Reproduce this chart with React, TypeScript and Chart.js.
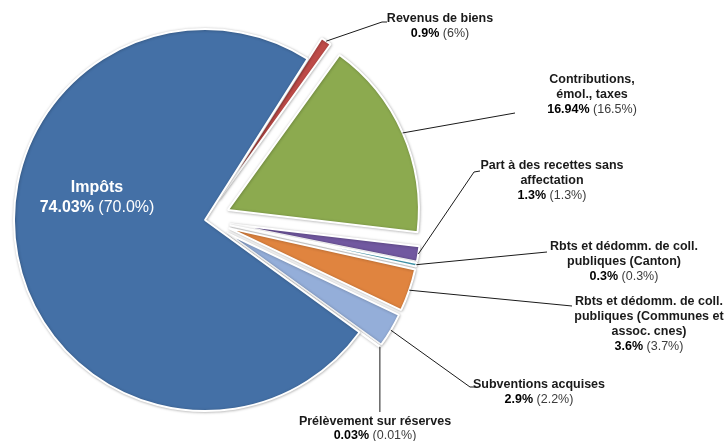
import React, { useEffect, useRef } from 'react';
import { Chart, registerables } from 'chart.js';

Chart.register(...registerables);

// ---- data (clockwise from the top) ----
const categories = [
  'Revenus de biens',
  'Contributions, émol., taxes',
  'Part à des recettes sans affectation',
  'Rbts et dédomm. de coll. publiques (Canton)',
  'Rbts et dédomm. de coll. publiques (Communes et assoc. cnes)',
  'Subventions acquises',
  'Prélèvement sur réserves',
  'Impôts',
];
const categoryLines = [
  ['Revenus de biens'],
  ['Contributions,', 'émol., taxes'],
  ['Part à des recettes sans', 'affectation'],
  ['Rbts et dédomm. de coll.', 'publiques (Canton)'],
  ['Rbts et dédomm. de coll.', 'publiques (Communes et', 'assoc. cnes)'],
  ['Subventions acquises'],
  ['Prélèvement sur réserves'],
  ['Impôts'],
];
const shares = [0.9, 16.94, 1.3, 0.3, 3.6, 2.9, 0.03, 74.03];
const previousShares = ['6%', '16.5%', '1.3%', '0.3%', '3.7%', '2.2%', '0.01%', '70.0%'];

// ---- styles / layout ----
const sliceColors = ['#BE4B48', '#8CAA4F', '#7158A0', '#4AACC5', '#E0843F', '#94AED9', '#94AED9', '#4470A6'];
const explode = [25, 25, 25, 25, 25, 25, 25, 0];
const FONT = '"Liberation Sans", Arial, Helvetica, sans-serif';

type Lay = { cx: number; y: number; lh: number; size: number; inside?: boolean; pts?: number[][]; vertical?: boolean };
const labelLayout: Lay[] = [
  { cx: 440, y: 19, lh: 15, size: 12.5, pts: [[382, 22], [387, 22]] },
  { cx: 592, y: 80, lh: 15, size: 12.5, pts: [[515, 113]] },
  { cx: 552, y: 166, lh: 15, size: 12.5, pts: [[474, 172], [480, 171]] },
  { cx: 624, y: 247, lh: 15, size: 12.5, pts: [[547, 252]] },
  { cx: 649, y: 302, lh: 15, size: 12.5, pts: [[572, 306]] },
  { cx: 539, y: 385, lh: 15, size: 12.5, pts: [[470, 387], [475, 387]] },
  { cx: 375, y: 422, lh: 14, size: 12.5, pts: [[0, 412]], vertical: true },
  { cx: 97, y: 188, lh: 20, size: 16, inside: true },
];

const explodePlugin = {
  id: 'explodeSlices',
  afterDatasetUpdate(chart: any) {
    const meta = chart.getDatasetMeta(0);
    meta.data.forEach((arc: any, i: number) => {
      const d = explode[i] || 0;
      if (!d) return;
      const mid = (arc.startAngle + arc.endAngle) / 2;
      arc.x += Math.cos(mid) * d;
      arc.y += Math.sin(mid) * d;
    });
  },
  beforeDatasetsDraw(chart: any) {
    const ctx = chart.ctx;
    ctx.save();
    ctx.shadowColor = 'rgba(0,0,0,0.28)';
    ctx.shadowBlur = 3;
    ctx.shadowOffsetX = 0.5;
    ctx.shadowOffsetY = 0.5;
  },
  afterDatasetsDraw(chart: any) {
    chart.ctx.restore();
  },
};

const labelPlugin = {
  id: 'sliceLabels',
  afterDraw(chart: any) {
    const ctx = chart.ctx;
    const meta = chart.getDatasetMeta(0);
    ctx.save();
    meta.data.forEach((arc: any, i: number) => {
      const lay = labelLayout[i];
      const inside = !!lay.inside;
      // leader line
      if (!inside && lay.pts) {
        const mid = (arc.startAngle + arc.endAngle) / 2;
        const sx = arc.x + Math.cos(mid) * arc.outerRadius;
        const sy = arc.y + Math.sin(mid) * arc.outerRadius;
        ctx.beginPath();
        ctx.strokeStyle = '#1a1a1a';
        ctx.lineWidth = 1;
        ctx.moveTo(sx, sy);
        lay.pts.forEach((p) => ctx.lineTo(lay.vertical ? sx : p[0], p[1]));
        ctx.stroke();
      }
      const nameColor = inside ? '#ffffff' : '#1a1a1a';
      const boldColor = inside ? '#ffffff' : '#000000';
      const normColor = inside ? '#ffffff' : '#3c3c3c';
      ctx.textBaseline = 'middle';
      const lines = categoryLines[i];
      let y = lay.y;
      ctx.fillStyle = nameColor;
      ctx.textAlign = 'center';
      ctx.font = `bold ${lay.size}px ${FONT}`;
      lines.forEach((l) => {
        ctx.fillText(l, lay.cx, y);
        y += lay.lh;
      });
      const boldTxt = `${shares[i]}%`;
      const normTxt = ` (${previousShares[i]})`;
      ctx.font = `bold ${lay.size}px ${FONT}`;
      const w1 = ctx.measureText(boldTxt).width;
      ctx.font = `${lay.size}px ${FONT}`;
      const w2 = ctx.measureText(normTxt).width;
      const left = lay.cx - (w1 + w2) / 2;
      ctx.textAlign = 'left';
      ctx.font = `bold ${lay.size}px ${FONT}`;
      ctx.fillStyle = boldColor;
      ctx.fillText(boldTxt, left, y);
      ctx.font = `${lay.size}px ${FONT}`;
      ctx.fillStyle = normColor;
      ctx.fillText(normTxt, left + w1, y);
    });
    ctx.restore();
  },
};

export default function App() {
  const ref = useRef<HTMLCanvasElement | null>(null);
  useEffect(() => {
    if (!ref.current) return;
    const chart = new Chart(ref.current, {
      type: 'pie',
      data: {
        labels: categories,
        datasets: [
          {
            data: shares,
            backgroundColor: sliceColors,
            borderColor: '#ffffff',
            borderWidth: 2,
            hoverOffset: 0,
            clip: false as any,
          },
        ],
      },
      options: {
        responsive: false,
        animation: false,
        events: [],
        rotation: 32.5,
        radius: 191,
        layout: { padding: { left: 0, right: 317, top: 0, bottom: 1 } },
        plugins: {
          legend: { display: false },
          tooltip: { enabled: false },
        },
      } as any,
      plugins: [explodePlugin, labelPlugin],
    });
    return () => chart.destroy();
  }, []);
  return (
    <div style={{ position: 'absolute', left: 0, top: 0, width: 727, height: 441, background: '#ffffff' }}>
      <canvas ref={ref} width={727} height={441} style={{ width: 727, height: 441, display: 'block' }} />
    </div>
  );
}
